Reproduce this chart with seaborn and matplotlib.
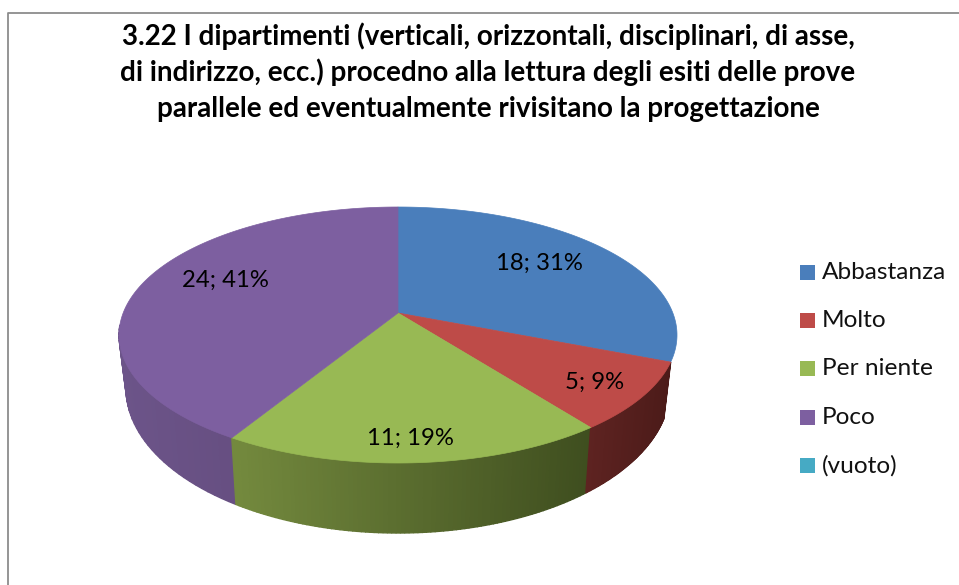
import numpy as np
import matplotlib
matplotlib.use("Agg")
import matplotlib.pyplot as plt
from matplotlib.colors import to_rgb
from matplotlib.patches import Rectangle
import seaborn as sns

sns.set_theme(style="white")
plt.rcParams['font.family'] = ['Lato', 'DejaVu Sans']

# Data
categories = ['Abbastanza', 'Molto', 'Per niente', 'Poco', '(vuoto)']
counts = [18, 5, 11, 24, 0]
percents = [31, 9, 19, 41, 0]
title_lines = ['3.22 I dipartimenti (verticali, orizzontali, disciplinari, di asse,',
               'di indirizzo, ecc.) procedno alla lettura degli esiti delle prove',
               'parallele ed eventualmente rivisitano la progettazione']

top_colors = ['#4a7ebb', '#be4b48', '#98b954', '#7d5fa0', '#46aac4']
side_left = {1: '#5e2321', 2: '#748a3e', 3: '#6c5489'}
side_right = {1: '#4c1b19', 2: '#3f4e1f', 3: '#5f4877'}

# Pie geometry in pixels
cx, cy, rx, ry = 398, 335, 279, 128
bottom_cy, bottom_rx, bottom_ry = 388, 272, 145
k = 0.172  # perspective shift of the apex


def project(theta):
    # theta clockwise from 12 o'clock, tilted circle
    u, v = np.sin(theta), np.cos(theta)
    d = 1 + k * v
    return cx + rx * u * np.sqrt(1 - k ** 2) / d, cy - ry * (v + k) / d


fig = plt.figure(figsize=(9.59, 5.85), dpi=100)
ax = fig.add_axes([0, 0, 1, 1])
ax.set_xlim(0, 959)
ax.set_ylim(585, 0)
ax.axis('off')

# Chart frame, cropped on the right and bottom
ax.plot([7.5, 7.5, 959], [585, 12.5, 12.5], color='#8c8c8c', lw=1.3)

edges = np.cumsum([0] + counts) / sum(counts) * 2 * np.pi

# Sides first, the blue one stays hidden behind the red edge
for i in [3, 2, 1]:
    th = np.linspace(edges[i], edges[i + 1], 90)
    x, y = project(th)
    xb = cx + (x - cx) * bottom_rx / rx
    yb = bottom_cy + (y - cy) * bottom_ry / ry
    c0, c1 = np.array(to_rgb(side_left[i])), np.array(to_rgb(side_right[i]))
    for j in range(len(th) - 1):
        if y[j] + y[j + 1] < 2 * 325:
            continue
        t = (x[j] - x.min()) / (x.max() - x.min())
        col = c0 + (c1 - c0) * t
        ax.fill([x[j], x[j + 1], xb[j + 1], xb[j]],
                [y[j], y[j + 1], yb[j + 1], yb[j]],
                color=col, lw=1)

# Top face
apex_x, apex_y = cx, cy - ry * k
for i in range(4):
    th = np.linspace(edges[i], edges[i + 1], 200)
    x, y = project(th)
    ax.fill(np.r_[apex_x, x], np.r_[apex_y, y], color=top_colors[i], lw=0.5)

# Slice labels
label_pos = [(539, 263), (595, 382), (410, 438), (225, 280)]
for i in range(4):
    ax.text(label_pos[i][0], label_pos[i][1], f'{counts[i]}; {percents[i]}%',
            ha='center', va='center', fontsize=17.2, color='black')

# Legend
legend_y = [272.5, 320.5, 368.5, 417.5, 465.5]
for i, name in enumerate(categories):
    ax.add_patch(Rectangle((800, legend_y[i] - 7.5), 15, 15, color=top_colors[i], lw=0))
    ax.text(822, legend_y[i], name, ha='left', va='center', fontsize=17.6, color='#111111')

# Title
for line, y in zip(title_lines, [36, 72, 109]):
    ax.text(488, y, line, ha='center', va='center', fontsize=20, fontweight='bold', color='black')

plt.savefig('out.png', dpi=100)
